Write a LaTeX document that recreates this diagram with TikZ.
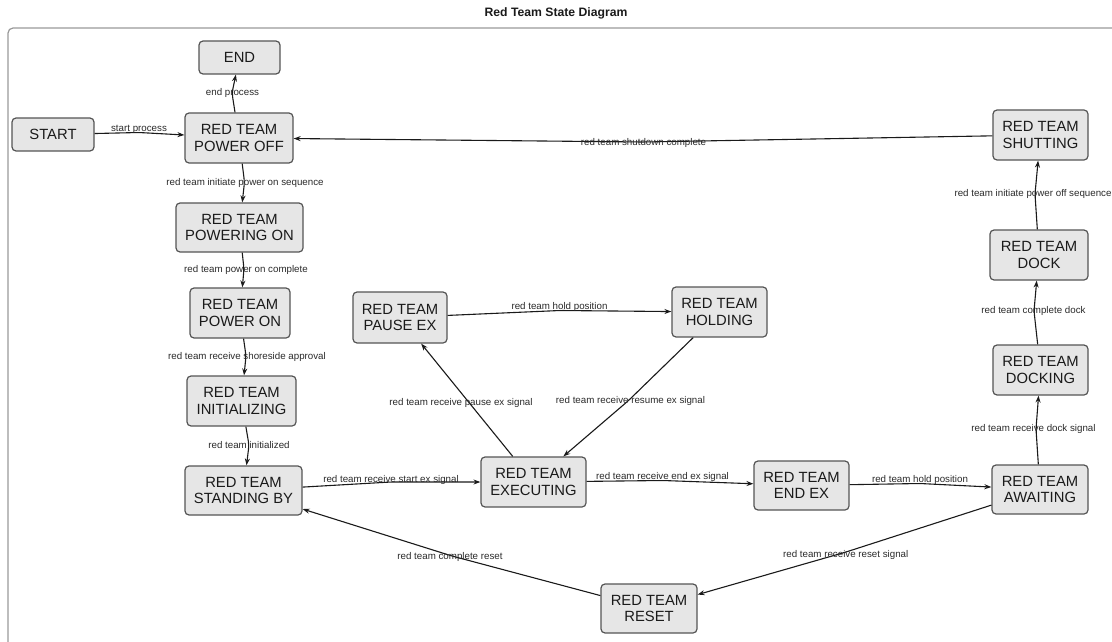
\documentclass[tikz,border=0pt]{standalone}
\usepackage{fontspec}
\setmainfont{Liberation Sans}
\usetikzlibrary{arrows.meta}
\definecolor{nodefill}{HTML}{E6E6E6}
\definecolor{nodeline}{HTML}{555555}
\definecolor{framegray}{HTML}{999999}
\definecolor{ink}{HTML}{1A1A1A}
\definecolor{lblink}{HTML}{2A2A2A}

\begin{document}
\begin{tikzpicture}[x=1pt,y=-1pt,
  state/.style={draw=nodeline, fill=nodefill, line width=1.2pt, rounded corners=4pt,
    align=center, font=\fontsize{14.8}{16.7}\selectfont, text=ink, inner sep=0pt,
    minimum height=50pt},
  single/.style={state, minimum height=33pt},
  lbl/.style={font=\fontsize{9.75}{11}\selectfont, text=lblink, inner sep=0pt},
  edge/.style={draw=ink, line width=1.1pt, rounded corners=4pt,
    -{Stealth[length=7pt,width=5pt]}},
]
\useasboundingbox (0,0) rectangle (1112,642);

% title and outer frame
\node[font=\bfseries\fontsize{12.2}{14}\selectfont, text=ink] (title) at (556,13) {Red Team State Diagram};
\draw[framegray, line width=1.2pt, rounded corners=5pt, overlay] (8,28) rectangle (1130,660);

% states
\node[single, minimum width=81pt] (endst) at (239.5,57.5) {END};
\node[single, minimum width=82pt] (start) at (53,134.5) {START};
\node[state, minimum width=108pt] (poweroff) at (239,138) {RED TEAM\\POWER OFF};
\node[state, minimum width=95pt] (shutting) at (1040.5,135) {RED TEAM\\SHUTTING};
\node[state, minimum width=127pt, minimum height=49pt] (poweringon) at (239.5,227.5) {RED TEAM\\POWERING ON};
\node[state, minimum width=100pt] (poweron) at (240,313) {RED TEAM\\POWER ON};
\node[state, minimum width=109pt] (initializing) at (241.5,401) {RED TEAM\\INITIALIZING};
\node[state, minimum width=117pt, minimum height=49pt] (standingby) at (243.5,490.5) {RED TEAM\\STANDING BY};
\node[state, minimum width=94pt, minimum height=51pt] (pauseex) at (400,317.5) {RED TEAM\\PAUSE EX};
\node[state, minimum width=95pt] (holding) at (719.5,312) {RED TEAM\\HOLDING};
\node[state, minimum width=105pt] (executing) at (533.5,482) {RED TEAM\\EXECUTING};
\node[state, minimum width=95pt, minimum height=49pt] (endex) at (801.5,485.5) {RED TEAM\\END EX};
\node[state, minimum width=96pt, minimum height=49pt] (awaiting) at (1040,489.5) {RED TEAM\\AWAITING};
\node[state, minimum width=98pt] (dock) at (1039,255) {RED TEAM\\DOCK};
\node[state, minimum width=95pt] (docking) at (1040.5,370) {RED TEAM\\DOCKING};
\node[state, minimum width=96pt, minimum height=49pt] (reset) at (649,608.5) {RED TEAM\\RESET};

% bend points the transitions pass through, where they cross their labels
\coordinate (vStart) at (139,132.5);
\coordinate (vEnd) at (232,93);
\coordinate (vPonSeq) at (244.5,182);
\coordinate (vPonDone) at (244,269);
\coordinate (vShore) at (246,356);
\coordinate (vInit) at (249,445);
\coordinate (vStartEx) at (391,482);
\coordinate (vHoldA) at (560,310.5);
\coordinate (vResume) at (628,401);
\coordinate (vEndEx) at (663,480.5);
\coordinate (vHoldB) at (920,483.5);
\coordinate (vResetSig) at (846,552);
\coordinate (vResetDone) at (452,556);
\coordinate (vDockSig) at (1036,429);
\coordinate (vDockDone) at (1034,311);
\coordinate (vPoffSeq) at (1035,194);
\coordinate (vShutDone) at (643,142);

% transitions
\draw[edge] (start) -- (vStart) -- (poweroff) node[lbl] (l1) at (139,129) {start process};
\draw[edge] (poweroff) -- (vEnd) -- (endst) node[lbl] (l2) at (232.5,93) {end process};
\draw[edge] (poweroff) -- (vPonSeq) -- (poweringon) node[lbl] (l3) at (245,182.5) {red team initiate power on sequence};
\draw[edge] (poweringon) -- (vPonDone) -- (poweron) node[lbl] (l4) at (246,269.5) {red team power on complete};
\draw[edge] (poweron) -- (vShore) -- (initializing) node[lbl] (l5) at (247,356.5) {red team receive shoreside approval};
\draw[edge] (initializing) -- (vInit) -- (standingby) node[lbl] (l6) at (249,445) {red team initialized};
\draw[edge] (standingby) -- (vStartEx) -- (executing) node[lbl] (l7) at (391,479.5) {red team receive start ex signal};
\draw[edge] (executing) -- (pauseex) node[lbl] (l8) at (461,402.7) {red team receive pause ex signal};
\draw[edge] (pauseex) -- (vHoldA) -- (holding) node[lbl] (l9) at (559.5,306.7) {red team hold position};
\draw[edge] (holding) -- (vResume) -- (executing) node[lbl] (l10) at (630.5,400.7) {red team receive resume ex signal};
\draw[edge] (executing) -- (vEndEx) -- (endex) node[lbl] (l11) at (662.5,477) {red team receive end ex signal};
\draw[edge] (endex) -- (vHoldB) -- (awaiting) node[lbl] (l12) at (920,480.3) {red team hold position};
\draw[edge] (awaiting) -- (vResetSig) -- (reset) node[lbl] (l13) at (845.7,554.7) {red team receive reset signal};
\draw[edge] (reset) -- (vResetDone) -- (standingby) node[lbl] (l14) at (450,556.7) {red team complete reset};
\draw[edge] (awaiting) -- (vDockSig) -- (docking) node[lbl] (l15) at (1033.5,429) {red team receive dock signal};
\draw[edge] (docking) -- (vDockDone) -- (dock) node[lbl] (l16) at (1033.5,311) {red team complete dock};
\draw[edge] (dock) -- (vPoffSeq) -- (shutting) node[lbl] (l17) at (1033,194) {red team initiate power off sequence};
\draw[edge] (shutting) -- (vShutDone) -- (poweroff) node[lbl] (l18) at (643.5,143) {red team shutdown complete};
\end{tikzpicture}
\end{document}
